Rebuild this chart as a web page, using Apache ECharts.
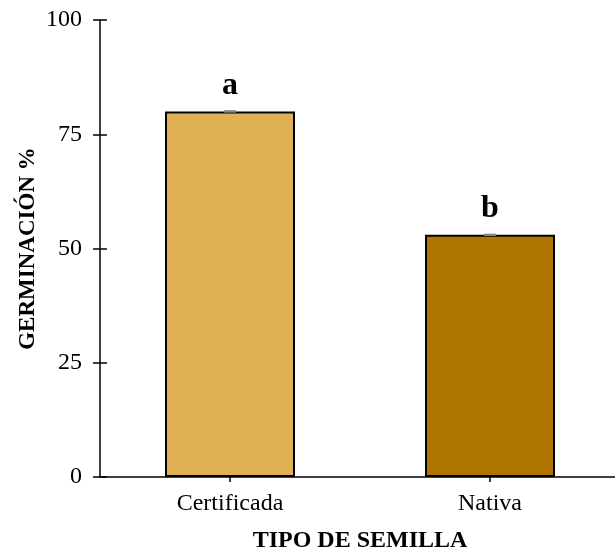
<!DOCTYPE html>
<html>
<head>
<meta charset="utf-8">
<script src="https://cdn.jsdelivr.net/npm/echarts@6/dist/echarts.min.js"></script>
<style>
  html, body { margin: 0; padding: 0; background: #fff; }
  #chart { width: 615px; height: 552px; }
</style>
</head>
<body>
<div id="chart"></div>
<script>
// Germination by seed type
const categories = ['Certificada', 'Nativa'];
const germination = [80, 53];
const errors = [0, 0];
const groupLetters = ['a', 'b'];
const barColors = ['#E0B055', '#B07400'];
const yTicks = [0, 25, 50, 75, 100];

const FONT = '"Liberation Serif", "Times New Roman", serif';

const chart = echarts.init(document.getElementById('chart'), null, { renderer: 'canvas' });

const axisLine = { show: true, lineStyle: { color: '#000', width: 1.5 } };

chart.setOption({
  animation: false,
  backgroundColor: '#fff',
  grid: { left: 100, right: -5, top: 20, bottom: 75, outerBoundsMode: 'none', containLabel: false },
  xAxis: [
    {
      type: 'category',
      data: categories,
      position: 'bottom',
      axisLine: axisLine,
      axisTick: { show: true, alignWithLabel: true, length: 5, inside: false, lineStyle: { color: '#000', width: 1.5 } },
      axisLabel: { color: '#000', fontFamily: FONT, fontSize: 24, margin: 15 },
      name: 'TIPO DE SEMILLA',
      nameLocation: 'middle',
      nameGap: 52,
      nameMoveOverlap: false,
      nameTextStyle: { color: '#000', fontFamily: FONT, fontSize: 24, fontWeight: 'bold' }
    },
    {
      // inner half of the crossing ticks
      type: 'category',
      data: categories,
      position: 'bottom',
      axisLine: { show: false },
      axisTick: { show: true, alignWithLabel: true, length: 5, inside: true, lineStyle: { color: '#000', width: 1.5 } },
      axisLabel: { show: false }
    }
  ],
  yAxis: [
    {
      type: 'value',
      min: 0,
      max: 100,
      interval: 25,
      axisLine: axisLine,
      axisTick: { show: true, length: 7, inside: false, lineStyle: { color: '#000', width: 1.5 } },
      axisLabel: {
        color: '#000', fontFamily: FONT, fontSize: 24, margin: 18,
        formatter: v => yTicks.includes(v) ? String(v) : ''
      },
      splitLine: { show: false },
      name: 'GERMINACIÓN %',
      nameLocation: 'middle',
      nameGap: 60,
      nameMoveOverlap: false,
      nameTextStyle: { color: '#000', fontFamily: FONT, fontSize: 23, fontWeight: 'bold' }
    },
    {
      // inner half of the crossing ticks
      type: 'value',
      min: 0,
      max: 100,
      interval: 25,
      position: 'left',
      axisLine: { show: false },
      axisTick: { show: true, length: 7, inside: true, lineStyle: { color: '#000', width: 1.5 } },
      axisLabel: { show: false },
      splitLine: { show: false }
    }
  ],
  series: [
    {
      type: 'bar',
      data: germination.map((v, i) => ({
        value: v,
        itemStyle: { color: barColors[i] },
        label: { formatter: groupLetters[i] }
      })),
      barWidth: '50%',
      itemStyle: { borderColor: '#000', borderWidth: 2 },
      label: {
        show: true,
        position: 'top',
        distance: 10,
        color: '#000',
        fontFamily: FONT,
        fontSize: 32,
        fontWeight: 'bold'
      },
      z: 2
    },
    {
      // error bars
      type: 'custom',
      data: germination.map((v, i) => [i, v, errors[i]]),
      renderItem: (params, api) => {
        const x = api.value(0), v = api.value(1), e = api.value(2);
        const hi = api.coord([x, v + e]);
        const lo = api.coord([x, v - e]);
        const cap = 6;
        const style = { stroke: '#888', lineWidth: 2 };
        return {
          type: 'group',
          children: [
            { type: 'line', shape: { x1: hi[0], y1: hi[1], x2: lo[0], y2: lo[1] }, style },
            { type: 'line', shape: { x1: hi[0] - cap, y1: hi[1], x2: hi[0] + cap, y2: hi[1] }, style },
            { type: 'line', shape: { x1: lo[0] - cap, y1: lo[1], x2: lo[0] + cap, y2: lo[1] }, style }
          ]
        };
      },
      z: 5
    }
  ]
});
</script>
</body>
</html>
